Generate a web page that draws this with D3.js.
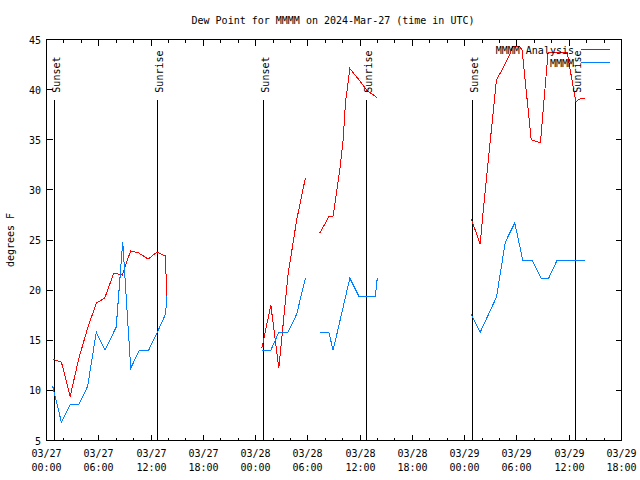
<!DOCTYPE html>
<html lang="en">
<head>
  <meta charset="UTF-8">
  <title>Dew Point for MMMM</title>
  <style>
    body { margin: 0; background: #fff; }
    svg text { font-family: "DejaVu Sans Mono", monospace; font-size: 10px; fill: #000; }
  </style>
</head>
<body>
  <svg id="chart" width="640" height="480"></svg>

  <script src="https://d3js.org/d3.v7.min.js"></script>
  <script>
    // times are UTC, "mm-dd HH:MM"; null value = gap in the line
    const analysisTimes = [
      "03-27 00:43","03-27 01:43","03-27 02:43","03-27 03:43","03-27 04:43","03-27 05:43",
      "03-27 06:41","03-27 07:43","03-27 08:41","03-27 09:39","03-27 10:36","03-27 11:40",
      "03-27 12:42","03-27 13:40","03-27 13:49","03-27 18:00",
      "03-28 00:43","03-28 01:45","03-28 02:40","03-28 03:43","03-28 04:43","03-28 05:43","03-28 06:30",
      "03-28 07:22","03-28 08:24","03-28 08:54","03-28 09:40","03-28 10:03","03-28 10:19",
      "03-28 10:49","03-28 11:51","03-28 12:48","03-28 13:58","03-28 18:00",
      "03-29 00:45","03-29 01:47","03-29 02:08","03-29 03:39","03-29 04:19","03-29 05:11",
      "03-29 05:29","03-29 06:20","03-29 06:36","03-29 07:38","03-29 08:42","03-29 09:34",
      "03-29 11:46","03-29 12:45","03-29 13:17","03-29 13:52"
    ];
    const analysisDew = [
      13.1, 12.8, 9.4, 13.2, 16.2, 18.7,
      19.2, 21.7, 21.5, 23.9, 23.7, 23.1,
      23.8, 23.4, 18.3, null,
      14.2, 18.5, 12.2, 21.5, 27.0, 31.2, null,
      25.7, 27.3, 27.4, 32.0, 35.0, 38.7,
      42.1, 41.0, 39.9, 39.2, null,
      27.1, 24.6, 28.0, 41.0, 42.0, 43.5,
      44.3, 44.3, 43.9, 35.0, 34.7, 43.7,
      43.7, 38.8, 39.1, 39.1
    ];

    const obsTimes = [
      "03-27 00:43","03-27 01:43","03-27 02:43","03-27 03:43","03-27 04:43","03-27 05:43",
      "03-27 06:43","03-27 07:43","03-27 08:00","03-27 08:45","03-27 09:40","03-27 10:39",
      "03-27 11:43","03-27 12:43","03-27 13:40","03-27 13:49","03-27 18:00",
      "03-28 00:43","03-28 01:45","03-28 02:40","03-28 03:43","03-28 04:43","03-28 05:43","03-28 06:30",
      "03-28 07:22","03-28 08:24","03-28 08:54","03-28 10:49","03-28 11:51","03-28 13:45",
      "03-28 13:58","03-28 18:00",
      "03-29 00:45","03-29 01:47","03-29 03:39","03-29 04:40","03-29 05:45","03-29 06:40",
      "03-29 07:45","03-29 08:46","03-29 09:39","03-29 10:37","03-29 13:52"
    ];
    const obsDew = [
      10.4, 6.8, 8.6, 8.6, 10.4, 15.8,
      14.0, 15.8, 16.3, 24.8, 12.2, 14.0,
      14.0, 15.8, 17.6, 19.4, null,
      14.0, 14.0, 15.8, 15.8, 17.6, 21.2, null,
      15.8, 15.8, 14.0, 21.2, 19.4, 19.4,
      21.2, null,
      17.6, 15.8, 19.3, 24.8, 26.7, 23.0,
      23.0, 21.2, 21.2, 23.0, 23.0
    ];

    const sunTimes = ["03-27 00:57","03-27 12:47","03-28 00:57","03-28 12:46","03-29 00:56","03-29 12:45"];
    const sunLabels = ["Sunset","Sunrise","Sunset","Sunrise","Sunset","Sunrise"];

    const yTicks = [5, 10, 15, 20, 25, 30, 35, 40, 45];
    const xStart = "03-27 00:00", xEnd = "03-29 18:00";

    const parse = d3.utcParse("%m-%d %H:%M");
    const svg = d3.select("#chart");

    const x = d3.scaleUtc().domain([parse(xStart), parse(xEnd)]).range([46.5, 621.5]);
    const y = d3.scaleLinear().domain([5, 45]).range([440.5, 39.5]);

    // title
    svg.append("text").attr("x", 333).attr("y", 24).attr("text-anchor", "middle")
      .text("Dew Point for MMMM on 2024-Mar-27 (time in UTC)");

    // y label
    svg.append("text").attr("transform", "translate(14,240) rotate(-90)")
      .attr("text-anchor", "middle").text("degrees F");

    const g = svg.append("g").attr("shape-rendering", "crispEdges");

    // y ticks, both sides
    yTicks.forEach(v => {
      g.append("line").attr("x1", 46.5).attr("x2", 52.5).attr("y1", y(v)).attr("y2", y(v)).attr("stroke", "#000");
      g.append("line").attr("x1", 615.5).attr("x2", 621.5).attr("y1", y(v)).attr("y2", y(v)).attr("stroke", "#000");
      svg.append("text").attr("x", 41).attr("y", y(v) + 4).attr("text-anchor", "end").text(v);
    });

    // x ticks: major every 6h, minor every 2h, mirrored on top
    const minor = d3.utcHour.every(2).range(parse(xStart), d3.utcHour.offset(parse(xEnd), 1));
    minor.forEach(t => {
      const major = t.getUTCHours() % 6 === 0;
      const len = major ? 6 : 3;
      const xx = Math.round(x(t) - 0.5) + 0.5;
      g.append("line").attr("x1", xx).attr("x2", xx).attr("y1", 440.5).attr("y2", 440.5 - len).attr("stroke", "#000");
      g.append("line").attr("x1", xx).attr("x2", xx).attr("y1", 39.5).attr("y2", 39.5 + len).attr("stroke", "#000");
      if (major) {
        svg.append("text").attr("x", xx).attr("y", 457).attr("text-anchor", "middle").text(d3.utcFormat("%m/%d")(t));
        svg.append("text").attr("x", xx).attr("y", 471).attr("text-anchor", "middle").text(d3.utcFormat("%H:%M")(t));
      }
    });

    // frame
    g.append("rect").attr("x", 46.5).attr("y", 39.5).attr("width", 575).attr("height", 401)
      .attr("fill", "none").attr("stroke", "#000");

    // sunrise / sunset markers
    sunTimes.forEach((s, i) => {
      const xx = Math.round(x(parse(s)) - 0.5) + 0.5;
      g.append("line").attr("x1", xx).attr("x2", xx).attr("y1", y(5)).attr("y2", y(39)).attr("stroke", "#000");
      svg.append("text").attr("transform", `translate(${xx + 5},${y(39) - 7}) rotate(-90)`)
        .text(sunLabels[i]);
    });

    // series
    function drawSeries(times, vals, color) {
      const pts = times.map((t, i) => ({ t: parse(t), v: vals[i] }));
      const line = d3.line().defined(d => d.v != null).x(d => x(d.t)).y(d => y(d.v));
      g.append("path").datum(pts).attr("d", line).attr("fill", "none")
        .attr("stroke", color).attr("stroke-width", 1);
    }
    drawSeries(analysisTimes, analysisDew, "#ff0000");
    drawSeries(obsTimes, obsDew, "#0080ff");

    // legend
    const legend = [["MMMM Analysis", "#ff0000"], ["MMMM", "#0080ff"]];
    legend.forEach((l, i) => {
      const ly = 49.5 + i * 13;
      svg.append("text").attr("x", 574).attr("y", ly + 4).attr("text-anchor", "end").text(l[0]);
      g.append("line").attr("x1", 581).attr("x2", 610).attr("y1", ly).attr("y2", ly).attr("stroke", l[1]);
    });
  </script>
</body>
</html>
